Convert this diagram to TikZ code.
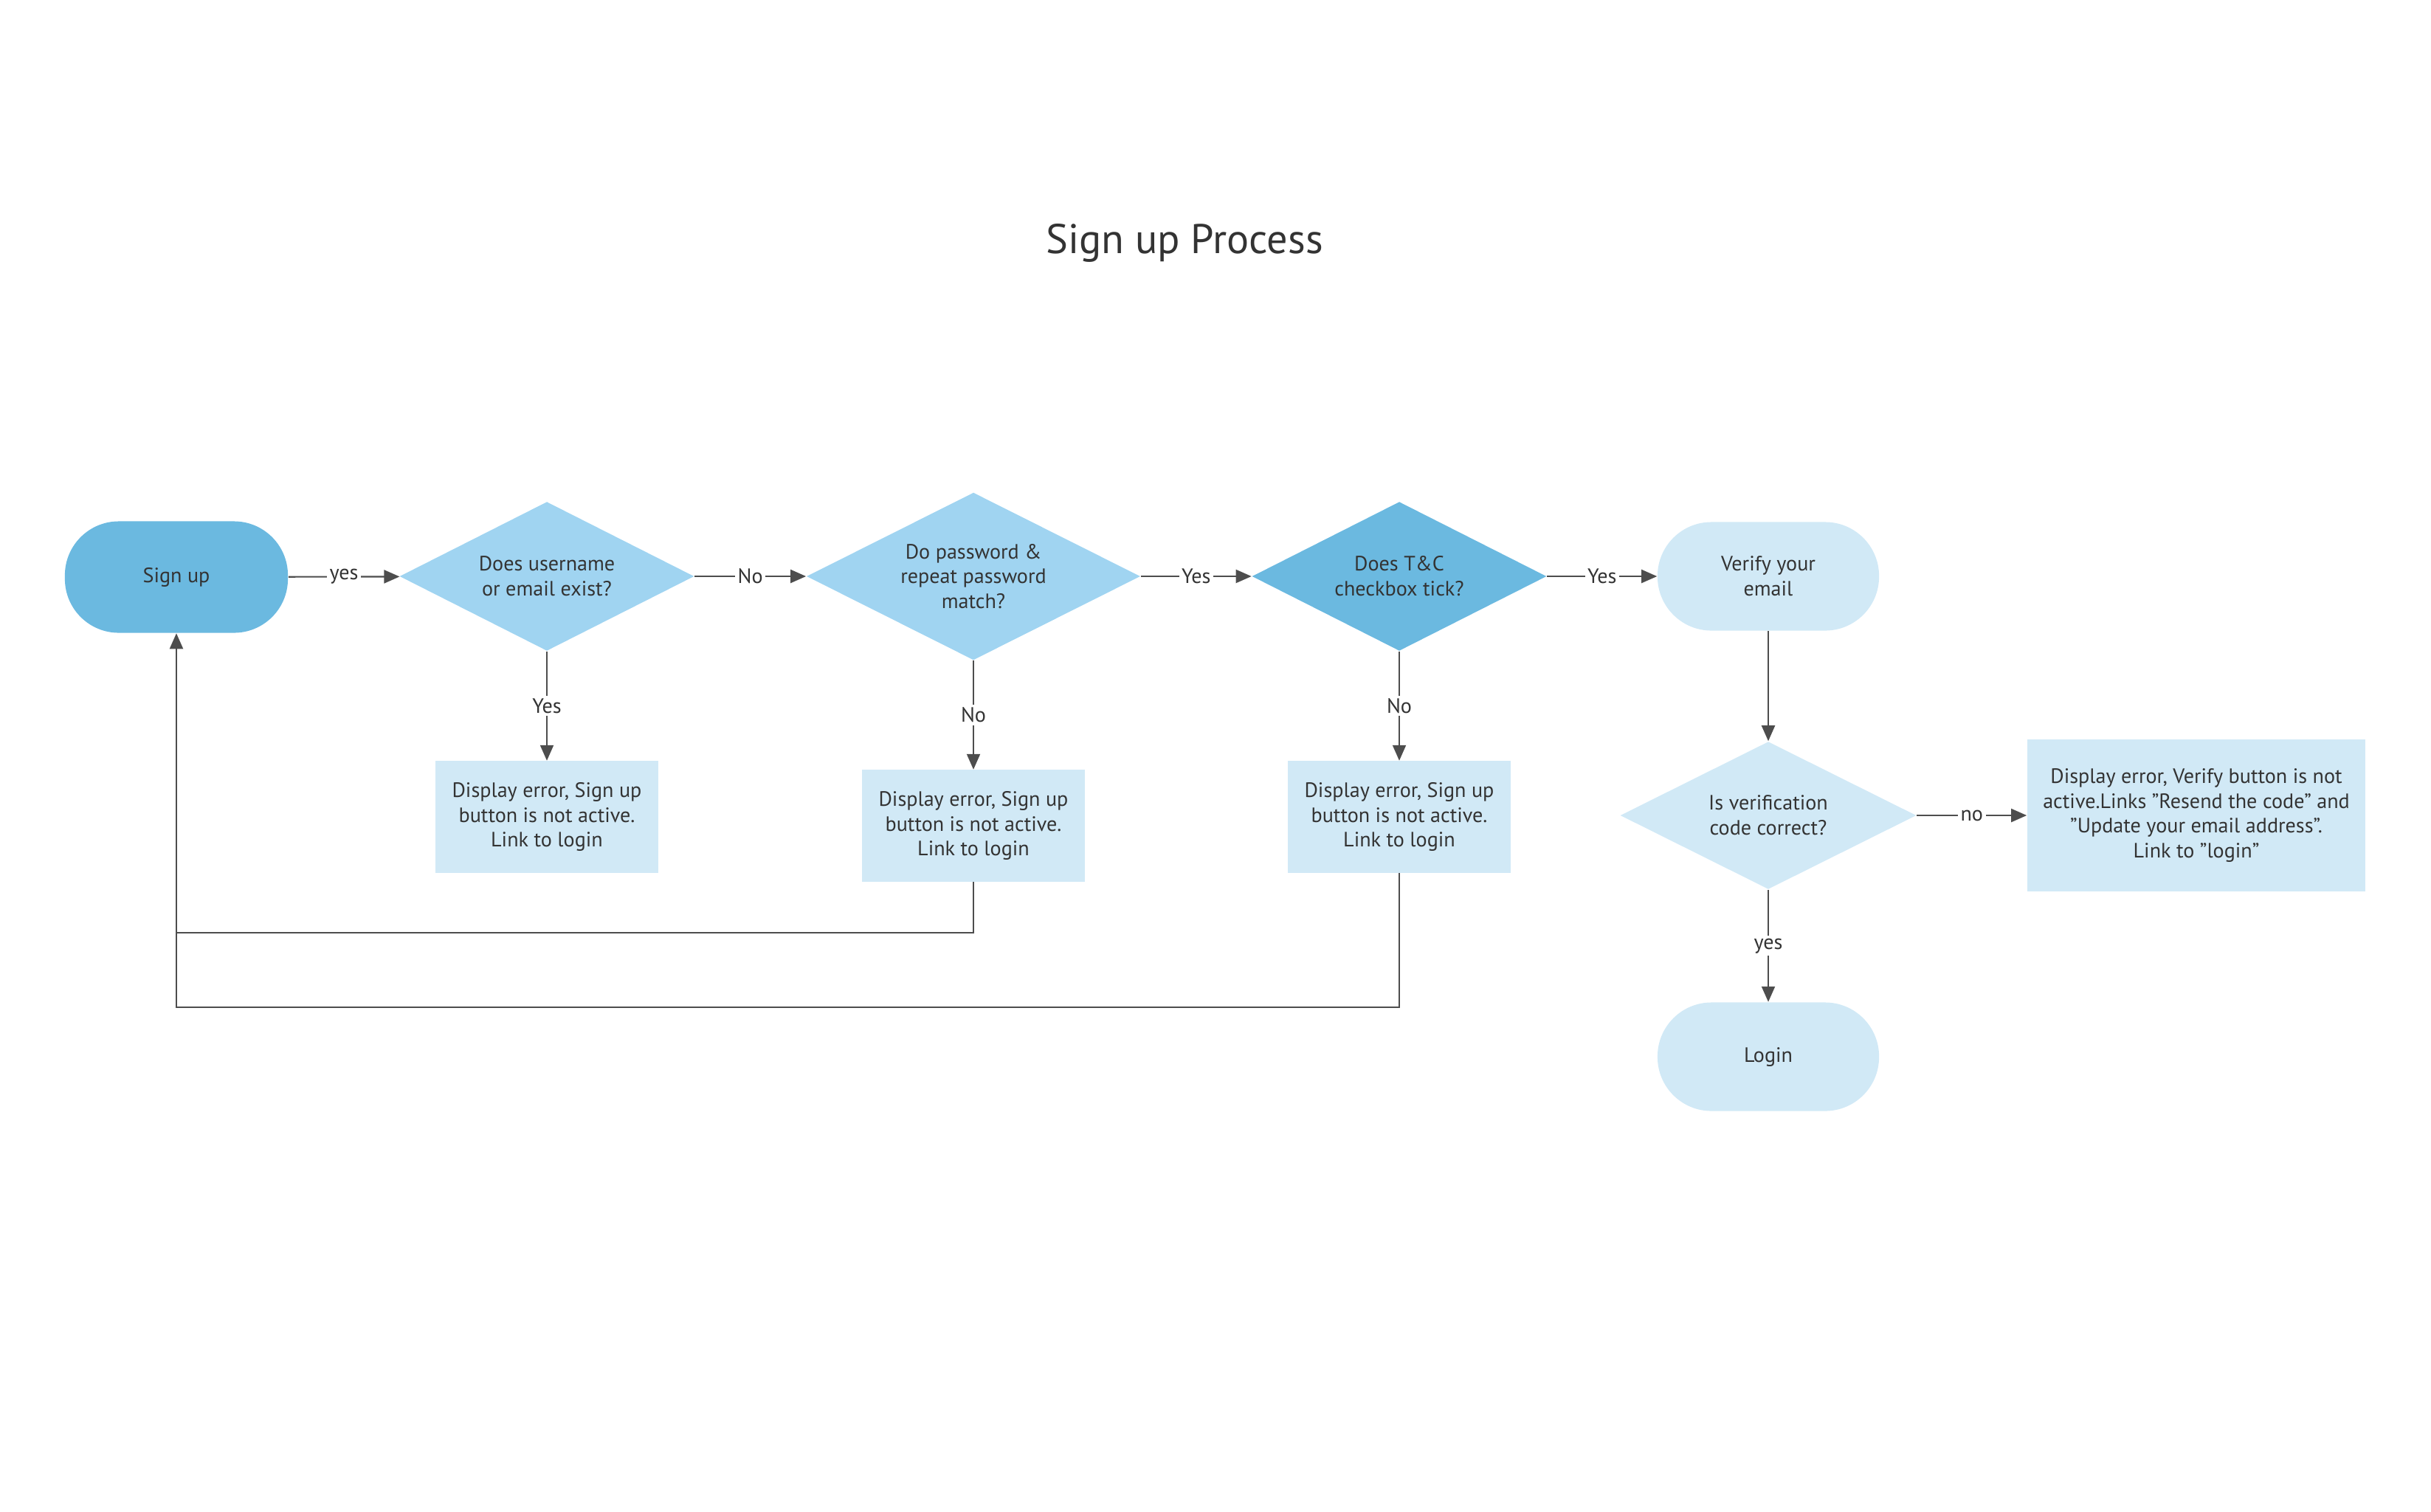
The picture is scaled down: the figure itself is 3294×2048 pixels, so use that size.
\documentclass[tikz,border=0pt]{standalone}
\usepackage{fontspec}
\setmainfont{PT Sans}
\usetikzlibrary{shapes.geometric,arrows.meta}

\definecolor{flowDark}{HTML}{6BB9E0}
\definecolor{flowMid}{HTML}{A0D4F1}
\definecolor{flowLight}{HTML}{D1E9F6}
\definecolor{flowLine}{HTML}{4D4D4D}
\definecolor{flowText}{HTML}{333333}

\def\returnNearY{1264}
\def\returnFarY{1365}

\begin{document}
\begin{tikzpicture}[
    x=0.01cm, y=-0.01cm,
    every node/.style={text=flowText, font=\fontsize{8}{9.6}\selectfont, align=center},
    terminal/.style={rectangle, rounded corners=0.73cm, minimum width=3.02cm, minimum height=1.51cm},
    decision/.style={diamond, aspect=2, inner sep=0pt, minimum width=3.99cm, minimum height=2.02cm},
    errorbox/.style={rectangle, fill=flowLight, minimum width=3.02cm, minimum height=1.51cm},
    flow/.style={draw=flowLine, line width=0.6pt, -{Triangle[length=0.21cm,width=0.18cm]}},
    lbl/.style={fill=white, inner sep=1pt}
  ]
      \useasboundingbox (0,0) rectangle (3294,2048);

      \node (title) at (1605,329) {\fontsize{16}{19}\selectfont Sign up Process};

      \node[terminal, fill=flowDark] (signup) at (239,782) {Sign up};
      \node[decision, fill=flowMid] (userExists) at (741,781)
        {Does username\\or email exist?};
      \node[decision, fill=flowMid, minimum width=4.52cm, minimum height=2.27cm]
        (pwMatch) at (1319,781) {Do password \&\\repeat password\\match?};
      \node[decision, fill=flowDark] (tcTick) at (1896,781)
        {Does T\&C\\checkbox tick?};
      \node[terminal, fill=flowLight, minimum width=3cm, minimum height=1.47cm]
        (verify) at (2396,781) {Verify your\\email};

      \node[errorbox] (errUser) at (741,1107)
        {Display error, Sign up\\button is not active.\\Link to login};
      \node[errorbox] (errPw) at (1319,1119)
        {Display error, Sign up\\button is not active.\\Link to login};
      \node[errorbox] (errTc) at (1896,1107)
        {Display error, Sign up\\button is not active.\\Link to login};

      \node[decision, fill=flowLight, minimum width=4.01cm, minimum height=2cm]
        (codeOk) at (2396,1105) {Is verification\\code correct?};
      \node[errorbox, minimum width=4.58cm, minimum height=2.06cm] (errCode) at (2976,1105)
        {Display error, Verify button is not\\active.Links "Resend the code" and\\"Update your email address".\\Link to "login"};
      \node[terminal, fill=flowLight, minimum width=3cm, minimum height=1.47cm]
        (login) at (2396,1432) {Login};

      \draw[flow] (signup) -- node[lbl] {yes} (userExists);
      \draw[flow] (userExists) -- node[lbl] {No} (pwMatch);
      \draw[flow] (pwMatch) -- node[lbl] {Yes} (tcTick);
      \draw[flow] (tcTick) -- node[lbl] {Yes} (verify);

      \draw[flow] (userExists) -- node[lbl] {Yes} (errUser);
      \draw[flow] (pwMatch) -- node[lbl] {No} (errPw);
      \draw[flow] (tcTick) -- node[lbl] {No} (errTc);

      \draw[flow] (verify) -- (codeOk);
      \draw[flow] (codeOk) -- node[lbl] {no} (errCode);
      \draw[flow] (codeOk) -- node[lbl] {yes} (login);

      \coordinate (backNear) at (239,\returnNearY);
      \coordinate (backFar) at (239,\returnFarY);
      \draw[draw=flowLine, line width=0.6pt] (errPw.south) |- (backNear);
      \draw[flow] (errTc.south) |- (backFar) -- (signup.south);
\end{tikzpicture}
\end{document}
